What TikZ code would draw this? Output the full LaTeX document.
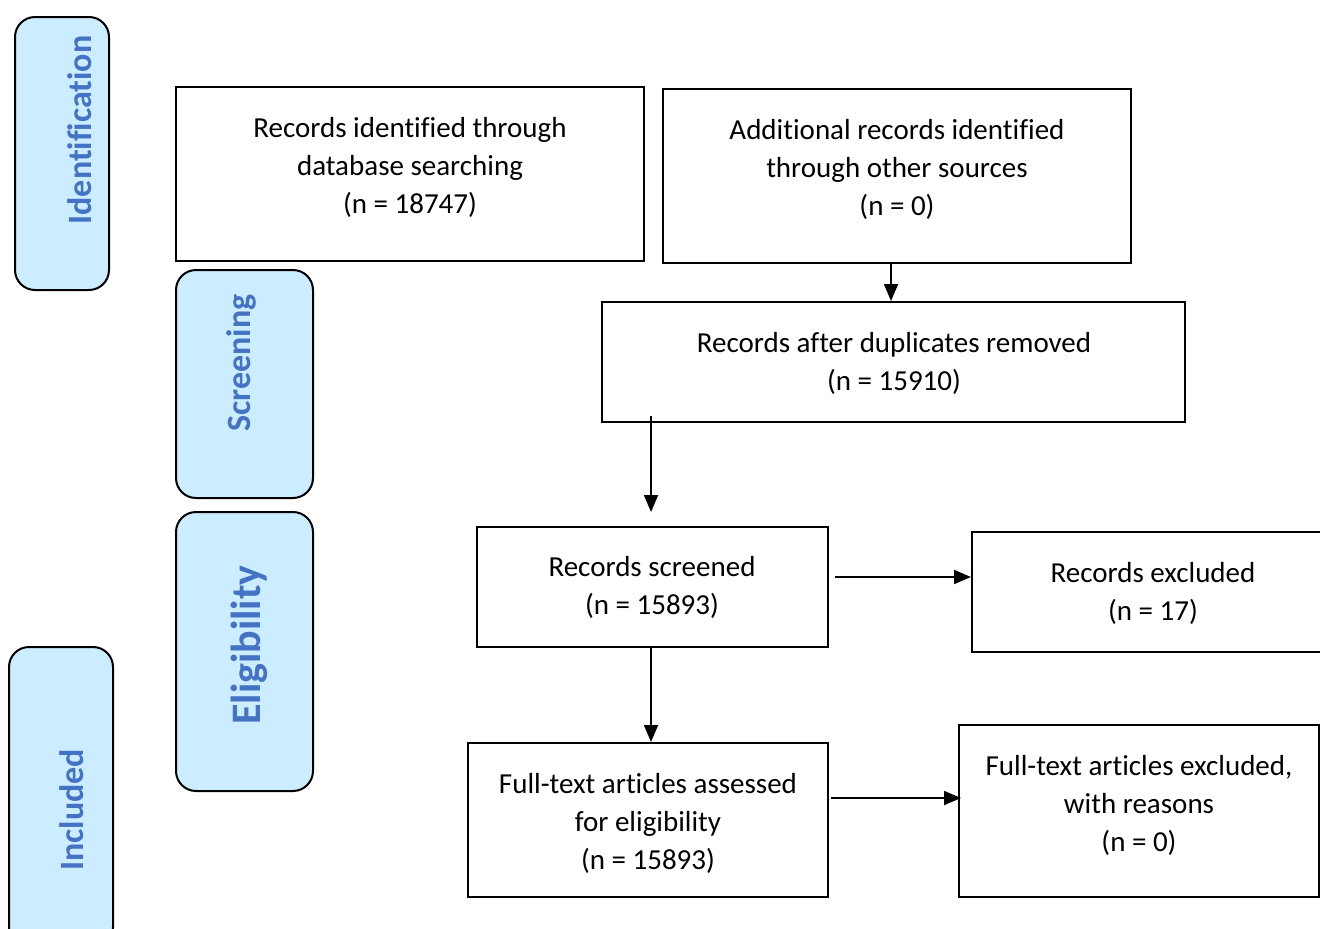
\documentclass[tikz,border=0pt]{standalone}
\usepackage{fontspec}
\setmainfont[Ligatures=NoCommon]{Carlito}
\usetikzlibrary{arrows.meta}
\definecolor{sidefill}{RGB}{204,236,255}
\definecolor{sidetext}{RGB}{68,114,196}
\tikzset{
  box/.style={draw=black, line width=2pt, inner sep=0pt},
  side/.style={draw=black, line width=2pt, fill=sidefill, rounded corners=20pt, inner sep=0pt},
  txt/.style={align=center, font=\fontsize{29}{38}\selectfont, inner sep=0pt},
  sidelbl/.style={rotate=90, text=sidetext, font=\fontsize{34}{40}\selectfont\bfseries, inner sep=0pt},
  arr/.style={line width=1.8pt, -{Triangle[length=17pt,width=14pt]}}
}
\begin{document}
\begin{tikzpicture}[x=1pt,y=-1pt]
\useasboundingbox (0,0) rectangle (1320,929);
\clip (0,0) rectangle (1320,929);
\fill[white] (0,0) rectangle (1320,929);
% side boxes
\node[side, minimum width=94pt, minimum height=273pt] (idn) at (62,153.5) {};
\node[sidelbl] (idnl) at (80,130) {Identification};
\node[side, minimum width=137pt, minimum height=228pt] (scr) at (244.5,384) {};
\node[sidelbl] (scrl) at (241,363) {Screening};
\node[side, minimum width=137pt, minimum height=279pt] (eli) at (244.5,651.5) {};
\node[sidelbl, font=\fontsize{42}{48}\selectfont\bfseries] (elil) at (249,645) {Eligibility};
\node[side, minimum width=104pt, minimum height=300pt] (inc) at (61,797) {};
\node[sidelbl] (incl) at (72,810) {Included};
% main boxes
\node[box, minimum width=468pt, minimum height=174pt] (a) at (410,174) {};
\node[txt] (at) at (410,167) {Records identified through\\database searching\\(n = 18747)};
\node[box, minimum width=468pt, minimum height=174pt] (b) at (897,176) {};
\node[txt] (bt) at (897,169) {Additional records identified\\through other sources\\(n = 0)};
\node[box, minimum width=583pt, minimum height=120pt] (c) at (893.5,362) {};
\node[txt] (ct) at (894,363) {Records after duplicates removed\\(n = 15910)};
\node[box, minimum width=351pt, minimum height=120pt] (d) at (652.5,587) {};
\node[txt] (dt) at (652,587) {Records screened\\(n = 15893)};
\node[box, minimum width=362pt, minimum height=120pt] (e) at (1153,592) {};
\node[txt] (et) at (1153,593) {Records excluded\\(n = 17)};
\node[box, minimum width=360pt, minimum height=154pt] (f) at (648,820) {};
\node[txt] (ft) at (648,823) {Full-text articles assessed\\for eligibility\\(n = 15893)};
\node[box, minimum width=360pt, minimum height=172pt] (g) at (1139,811) {};
\node[txt] (gt) at (1139,805) {Full-text articles excluded,\\with reasons\\(n = 0)};
% connectors
\coordinate (p1) at (891,0);
\draw[arr] (b.south -| p1) -- (c.north -| p1);
\coordinate (s2) at (651,416);
\coordinate (e2) at (651,512);
\draw[arr] (s2) -- (e2);
\draw[arr] (d.south -| s2) -- (f.north -| s2);
\coordinate (s3) at (835,577);
\draw[arr] (s3) -- (s3 -| e.west);
\coordinate (s4) at (831,798);
\draw[arr] (s4) -- ([xshift=3pt]s4 -| g.west);
\end{tikzpicture}
\end{document}
